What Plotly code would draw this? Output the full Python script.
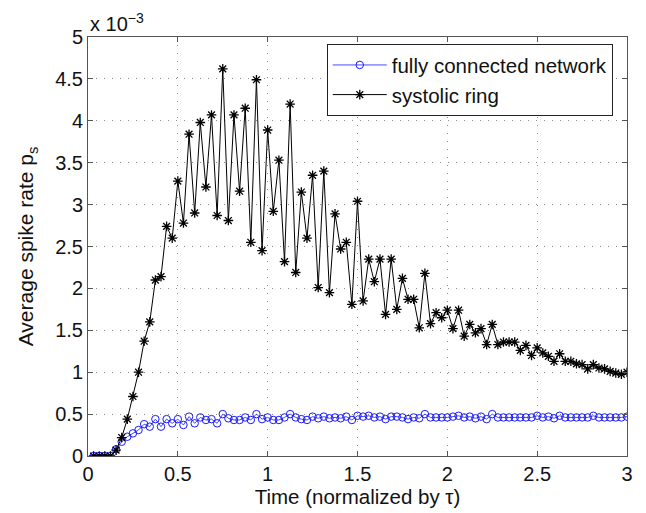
import plotly.graph_objects as go

# time grid: k/32, k = 1..96
k_index = list(range(1, 97))
time = [k / 32 for k in k_index]

# values in units of 1e-3
fully_connected = [
    0.0, 0.0, 0.0, 0.0, 0.08, 0.17, 0.23, 0.27, 0.31, 0.38,
    0.35, 0.44, 0.35, 0.44, 0.39, 0.44, 0.37, 0.47, 0.39, 0.46,
    0.43, 0.44, 0.39, 0.50, 0.45, 0.43, 0.43, 0.46, 0.43, 0.50,
    0.44, 0.46, 0.43, 0.43, 0.46, 0.50, 0.46, 0.44, 0.43, 0.47,
    0.45, 0.47, 0.45, 0.46, 0.45, 0.47, 0.43, 0.48, 0.47, 0.48,
    0.46, 0.47, 0.44, 0.47, 0.47, 0.46, 0.44, 0.46, 0.45, 0.50,
    0.46, 0.46, 0.46, 0.46, 0.47, 0.48, 0.46, 0.47, 0.45, 0.47,
    0.44, 0.50, 0.46, 0.46, 0.46, 0.46, 0.46, 0.46, 0.46, 0.48,
    0.46, 0.47, 0.45, 0.48, 0.46, 0.46, 0.46, 0.46, 0.46, 0.48,
    0.46, 0.46, 0.46, 0.46, 0.46, 0.47,
]

systolic_ring = [
    0.0, 0.0, 0.0, 0.0, 0.07, 0.22, 0.44, 0.71, 1.00, 1.37,
    1.60, 2.10, 2.14, 2.74, 2.60, 3.28, 2.78, 3.84, 2.90, 3.98,
    3.21, 4.07, 2.87, 4.62, 2.81, 4.07, 3.16, 4.15, 2.55, 4.49,
    2.45, 3.89, 2.92, 3.53, 2.32, 4.20, 2.19, 3.15, 2.60, 3.35,
    2.01, 3.40, 1.95, 2.89, 2.47, 2.55, 1.81, 3.04, 1.85, 2.35,
    2.08, 2.35, 1.69, 2.35, 1.75, 2.12, 1.87, 1.87, 1.53, 2.18,
    1.58, 1.71, 1.65, 1.74, 1.52, 1.74, 1.43, 1.57, 1.47, 1.52,
    1.33, 1.57, 1.33, 1.36, 1.36, 1.36, 1.26, 1.32, 1.20, 1.29,
    1.23, 1.19, 1.13, 1.22, 1.13, 1.13, 1.10, 1.09, 1.04, 1.09,
    1.05, 1.04, 1.01, 0.99, 0.975, 1.00,
]

y_ticks = [0, 0.5, 1, 1.5, 2, 2.5, 3, 3.5, 4, 4.5, 5]
y_tick_labels = ["0", "0.5", "1", "1.5", "2", "2.5", "3", "3.5", "4", "4.5", "5"]
x_ticks = [0, 0.5, 1, 1.5, 2, 2.5, 3]
x_tick_labels = ["0", "0.5", "1", "1.5", "2", "2.5", "3"]
scale = 1e-3

FONT = "Liberation Sans, Arial, Helvetica, sans-serif"

fig = go.Figure()
fig.add_trace(go.Scatter(
    x=time, y=[v * scale for v in fully_connected],
    mode="lines+markers", name="fully connected network",
    line=dict(color="#1a1aff", width=0.8),
    marker=dict(symbol="circle-open", size=7.5, color="#1a1aff", line=dict(width=1, color="#1a1aff")),
))
fig.add_trace(go.Scatter(
    x=time, y=[v * scale for v in systolic_ring],
    mode="lines+markers", name="systolic ring",
    line=dict(color="#000000", width=1),
    marker=dict(symbol="asterisk-open", size=8, color="#000000", line=dict(width=1.3, color="#000000")),
))

axis_common = dict(
    showline=True, linecolor="#555555", linewidth=1, mirror="ticks",
    ticks="inside", ticklen=5, tickcolor="#555555",
    showgrid=True, gridcolor="#8c8c8c", griddash="1px,7px", gridwidth=1,
    zeroline=False,
    tickfont=dict(family=FONT, size=20, color="#111111"),
)

fig.update_layout(
    width=646, height=513,
    margin=dict(l=88, r=19, t=37, b=52),
    paper_bgcolor="white", plot_bgcolor="white",
    font=dict(family=FONT, size=20, color="#111111"),
    showlegend=True,
    legend=dict(
        x=0.443, y=0.983, xanchor="left", yanchor="top",
        bordercolor="#222222", borderwidth=1, bgcolor="white",
        font=dict(family=FONT, size=20.5, color="#111111"),
        itemwidth=54, tracegroupgap=0,
    ),
    xaxis=dict(
        range=[0, 3], tickvals=x_ticks, ticktext=x_tick_labels,
        title=dict(text="Time (normalized by τ)", font=dict(family=FONT, size=20.5), standoff=2),
        **axis_common,
    ),
    yaxis=dict(
        range=[0, 5 * scale], tickvals=[v * scale for v in y_ticks], ticktext=y_tick_labels,
        title=dict(text="Average spike rate p<sub>s</sub>", font=dict(family=FONT, size=21), standoff=15),
        **axis_common,
    ),
    annotations=[
        dict(text="x 10<sup>−3</sup>", xref="paper", yref="paper", x=0.0, y=1.0,
             xanchor="left", yanchor="bottom", showarrow=False,
             font=dict(family=FONT, size=20, color="#111111"), yshift=0),
    ],
)

fig.write_html("out.html")
